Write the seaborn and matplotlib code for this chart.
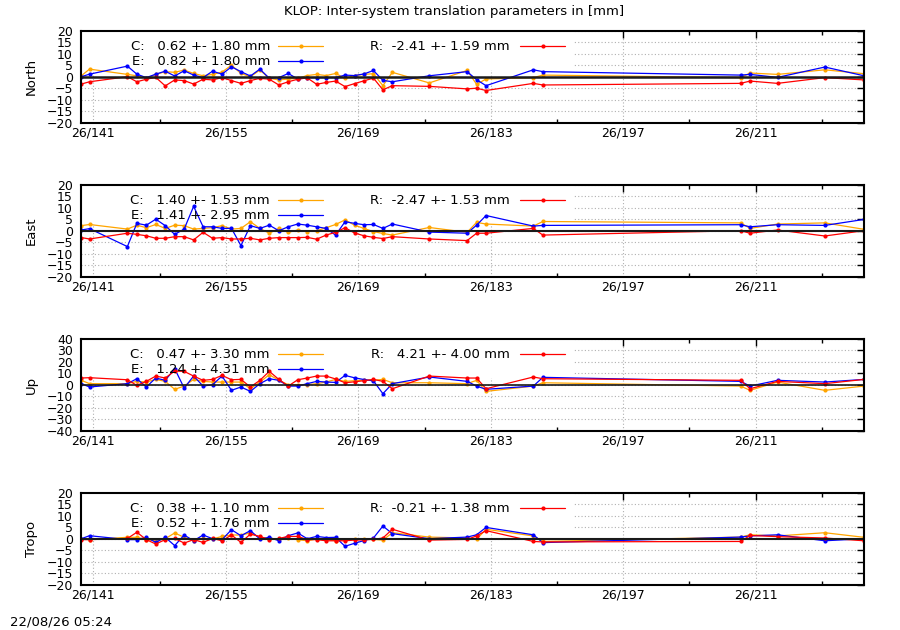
import numpy as np
import pandas as pd
import matplotlib
matplotlib.use("Agg")
import matplotlib.pyplot as plt
import seaborn as sns
from matplotlib.patches import Rectangle

# day of year 2026 for each solution
days = [139.73, 140.6, 144.6, 145.6, 146.6, 147.6, 148.6, 149.6, 150.6, 151.6,
        152.6, 153.6, 154.6, 155.6, 156.6, 157.6, 158.6, 159.6, 160.6, 161.6,
        162.6, 163.6, 164.6, 165.6, 166.6, 167.6, 168.6, 169.6, 170.6, 171.6,
        172.6, 176.5, 180.5, 181.5, 182.5, 187.5, 188.5, 209.4, 210.4, 213.3,
        218.3, 222.44]

north_c = [0.4, 3.3, 1.0, 0.4, -0.7, 1.0, 2.2, 1.9, 2.9, 1.4,
           0.4, 1.0, 2.0, 5.0, 1.4, 0.0, 2.9, -0.7, -1.4, -1.0,
           -0.7, 0.5, 1.0, 0.5, 1.4, -0.7, 0.5, 1.0, 1.3, -3.9,
           1.9, -2.7, 2.7, -3.3, -1.0, -0.4, 0.7, -0.4, 1.6, 1.0,
           3.0, 1.3]
north_e = [0.0, 1.1, 4.6, 1.1, -0.4, 1.1, 2.4, 0.3, 2.6, 0.7,
           -0.4, 2.4, 1.1, 4.3, 2.2, 0.3, 3.3, -0.7, -0.4, 1.4,
           -1.0, -0.4, -0.4, -0.4, -0.4, 0.7, 0.5, 1.2, 2.7, -1.6,
           -2.2, 0.4, 2.2, -1.3, -3.9, 3.0, 2.2, 0.7, 1.0, -0.3,
           4.2, 0.4]
north_r = [-3.2, -2.2, 0.0, -2.2, -1.1, -0.3, -4.0, -1.4, -1.7, -3.2,
           -1.1, -1.4, -0.4, -1.7, -2.9, -1.7, -0.7, -1.1, -3.6, -2.2,
           -1.1, -0.5, -3.3, -2.5, -1.9, -4.3, -3.0, -1.8, -0.6, -5.7,
           -3.9, -4.2, -5.3, -5.0, -6.0, -2.9, -3.6, -2.9, -1.9, -2.9,
           -0.4, -1.4]

east_c = [2.2, 2.7, 0.7, 2.4, 1.3, 2.7, 1.0, 2.4, 2.2, 0.7,
          1.0, 1.3, 2.2, 0.7, 1.0, 3.9, 1.0, -1.1, 1.0, -0.7,
          0.3, -0.4, 0.0, 1.3, 2.7, 4.7, 2.4, 1.0, -0.4, -1.2,
          -1.9, 1.4, -0.7, 3.6, 2.9, 2.0, 4.0, 3.4, 1.0, 2.9,
          3.4, 0.6]
east_e = [0.3, 0.9, -6.9, 3.2, 2.4, 5.0, 2.2, -1.6, 0.7, 10.6,
          1.7, 1.7, 1.0, 1.0, -6.5, 2.2, 1.0, 2.4, 0.0, 1.7,
          2.9, 2.4, 1.7, 1.0, -1.9, 3.9, 3.2, 2.6, 2.7, 1.0,
          2.9, -0.6, -1.1, 2.4, 6.6, 2.0, 2.3, 2.6, 1.7, 2.6,
          2.3, 4.9]
east_r = [-3.0, -3.6, -1.1, -1.6, -2.2, -3.3, -3.3, -2.6, -2.6, -4.0,
          -0.7, -3.3, -3.0, -3.6, -3.6, -3.3, -4.0, -3.3, -3.0, -3.0,
          -3.0, -2.9, -3.7, -1.9, -0.7, 1.3, -1.0, -2.2, -2.9, -3.4,
          -2.6, -3.6, -4.3, -1.1, -1.1, 1.0, -1.9, 0.0, -1.1, 0.3,
          -2.3, 0.0]

up_c = [3.8, 0.9, 0.9, 2.9, 2.3, 4.6, 2.9, -4.0, -1.2, 4.6,
        2.9, 2.3, 2.3, 2.3, 2.3, -3.5, 2.3, 8.7, 3.8, 0.0,
        0.0, 0.0, 0.9, 2.3, 4.6, 2.9, 3.5, 4.0, 3.8, 4.6,
        1.7, 1.7, 0.9, 3.8, -5.8, -1.2, 1.7, -1.2, -4.9, 2.3,
        -4.9, -1.2]
up_e = [0.9, -2.0, 0.9, 5.2, -2.0, 5.8, 3.8, 13.9, -2.9, 7.5,
        -1.2, 0.0, 7.5, -4.9, -2.0, -5.8, 0.9, 5.2, 3.8, -1.2,
        -1.2, 0.9, 2.9, 2.3, 2.0, 8.1, 6.0, 4.5, 3.3, -7.8,
        0.9, 6.7, 2.9, -1.2, -4.0, -1.2, 6.4, 2.9, -1.2, 3.8,
        2.3, 4.6]
up_r = [5.8, 6.1, 4.3, -0.6, 2.9, 7.5, 5.8, 11.9, 11.6, 7.5,
        3.8, 4.6, 8.1, 4.3, 4.6, -2.0, 3.8, 11.6, 4.6, -1.2,
        4.3, 5.8, 7.5, 7.5, 5.0, 1.7, 2.5, 3.5, 4.6, 2.9,
        -3.5, 7.5, 5.8, 5.8, -3.5, 6.7, 5.2, 3.8, -3.5, 2.9,
        0.9, 4.6]

tropo_c = [-0.1, -0.4, 0.6, 0.6, -0.4, -0.9, 0.0, 2.5, 0.6, -0.9,
           0.1, -0.1, 1.0, 1.6, 1.6, 2.5, 0.6, -0.1, -0.1, 0.1,
           -0.4, -0.9, -0.1, -0.1, -0.9, -0.4, -0.2, -0.1, -0.3, -0.6,
           2.6, 0.7, 0.3, -0.3, 4.1, 1.2, -1.2, 0.7, 1.7, 1.2,
           2.6, 0.6]
tropo_e = [0.0, 1.3, -0.4, -0.4, 0.6, -1.6, 0.6, -3.0, 1.6, -0.9,
           1.6, 0.0, -0.4, 3.9, 1.3, 3.5, -0.1, 0.6, -0.9, 1.3,
           2.5, 0.0, 1.0, 0.5, 0.6, -3.3, -2.0, -0.8, 0.3, 5.5,
           2.2, 0.0, 0.7, 1.7, 4.9, 1.7, -1.7, 0.7, 1.2, 1.7,
           -0.9, 0.0]
tropo_r = [-0.4, -0.4, 0.1, 2.8, -0.4, -2.3, -0.4, 0.1, -1.9, -0.4,
           -1.6, 0.1, -0.9, 1.6, -1.6, 2.0, 1.0, -0.4, 0.1, 1.0,
           1.0, -0.4, -0.4, -0.9, -0.9, -0.9, -0.6, -0.5, -0.3, 0.3,
           4.1, -0.6, -0.3, 1.2, 3.5, -1.2, -1.4, -1.2, 1.4, 0.9,
           0.3, -0.9]

components = ["North", "East", "Up", "Tropo"]
c_mean = [0.62, 1.40, 0.47, 0.38]
c_rms = [1.80, 1.53, 3.30, 1.10]
e_mean = [0.82, 1.41, 1.24, 0.52]
e_rms = [1.80, 2.95, 4.31, 1.76]
r_mean = [-2.41, -2.47, 4.21, -0.21]
r_rms = [1.59, 1.53, 4.00, 1.38]

tick_days = [141, 155, 169, 183, 197, 211]
tick_labels = ["26/141", "26/155", "26/169", "26/183", "26/197", "26/211"]
minor_days = [148, 162, 176, 190, 204, 218]

series = {
    "North": (north_c, north_e, north_r),
    "East": (east_c, east_e, east_r),
    "Up": (up_c, up_e, up_r),
    "Tropo": (tropo_c, tropo_e, tropo_r),
}
ylims = {"North": 20, "East": 20, "Up": 40, "Tropo": 20}
ysteps = {"North": 5, "East": 5, "Up": 10, "Tropo": 5}
zero_lw = {"North": 1.8, "East": 1.5, "Up": 1.2, "Tropo": 1.5}

colors = {"C": "#FFA500", "E": "#0000FF", "R": "#FF0000"}

sns.set_theme(style="white")
plt.rcParams['font.family'] = ['DejaVu Sans']
plt.rcParams['font.size'] = 9
for k in ['text.color', 'axes.labelcolor', 'xtick.color', 'ytick.color']:
    plt.rcParams[k] = 'black'

W, H = 900, 630
left_px, right_px = 81.3, 864.0
tops = [30.7, 184.7, 338.7, 492.7]
ph = 92.0
aw = right_px - left_px

fig = plt.figure(figsize=(9, 6.3), dpi=100)
fig.patch.set_facecolor("white")


def ax_x(px):
    return (px - left_px) / aw


for i, comp in enumerate(components):
    top = tops[i]
    ax = fig.add_axes([left_px / W, 1 - (top + ph) / H, aw / W, ph / H])
    ax.set_facecolor("white")
    ax.set_axisbelow(True)

    for key, vals in zip(["C", "E", "R"], series[comp]):
        df = pd.DataFrame({"day": days, "value": vals})
        sns.lineplot(data=df, x="day", y="value", ax=ax, color=colors[key],
                     marker="o", markersize=3, markeredgewidth=0, lw=0.9,
                     estimator=None, sort=False, zorder=2)

    ax.axhline(0, color="#1a1a1a", lw=zero_lw[comp], zorder=2.6)

    lim = ylims[comp]
    ax.set_xlim(days[0], days[-1])
    ax.set_ylim(-lim, lim)
    ax.set_yticks(np.arange(-lim, lim + 1, ysteps[comp]))
    ax.set_xticks(tick_days)
    ax.set_xticklabels(tick_labels)
    ax.set_xticks(minor_days, minor=True)
    ax.set_xlabel("")
    ax.set_ylabel(comp, fontsize=9.5)
    ax.yaxis.set_label_coords(ax_x(38), 0.5)

    ax.grid(True, which="major", color="#b0b0b0", linestyle=(0, (1, 2)), lw=0.8)
    ax.tick_params(axis="both", which="major", direction="in", length=5,
                   width=1, top=True, right=True, labelsize=9, pad=3)
    ax.tick_params(axis="x", which="minor", direction="in", length=3,
                   width=1, top=True, bottom=True)
    ax.tick_params(axis="y", pad=6)
    for sp in ax.spines.values():
        sp.set_color("black")
        sp.set_linewidth(1.5)
        sp.set_zorder(3)

    # key box hides the grid behind it
    key_bottom = 1 - 39 / ph
    ax.add_patch(Rectangle((0, key_bottom), ax_x(573), 1 - key_bottom,
                           transform=ax.transAxes, facecolor="white",
                           edgecolor="none", zorder=1))

    row1 = 1 - 15.5 / ph
    row2 = 1 - 30.5 / ph
    entries = [
        ("C", c_mean[i], c_rms[i], 270, 278, 323, row1),
        ("E", e_mean[i], e_rms[i], 270, 278, 323, row2),
        ("R", r_mean[i], r_rms[i], 510, 520, 565, row1),
    ]
    for key, m, s, tx, lx0, lx1, ry in entries:
        ax.text(ax_x(tx), ry, f"{key}: {m:6.2f} +- {s:4.2f} mm",
                transform=ax.transAxes, ha="right", va="center", fontsize=9.5,
                zorder=4)
        ax.plot([ax_x(lx0), ax_x(lx1)], [ry, ry], transform=ax.transAxes,
                color=colors[key], lw=0.9, zorder=4)
        ax.plot([ax_x((lx0 + lx1) / 2)], [ry], transform=ax.transAxes,
                color=colors[key], marker="o", markersize=3,
                markeredgewidth=0, zorder=4)

fig.text(454 / W, 1 - 12 / H, "KLOP: Inter-system translation parameters in [mm]",
         ha="center", va="center", fontsize=9.5)
fig.text(10 / W, 1 - 622 / H, "22/08/26 05:24", ha="left", va="center",
         fontsize=9.5)

fig.savefig("out.png", dpi=100, facecolor="white")
